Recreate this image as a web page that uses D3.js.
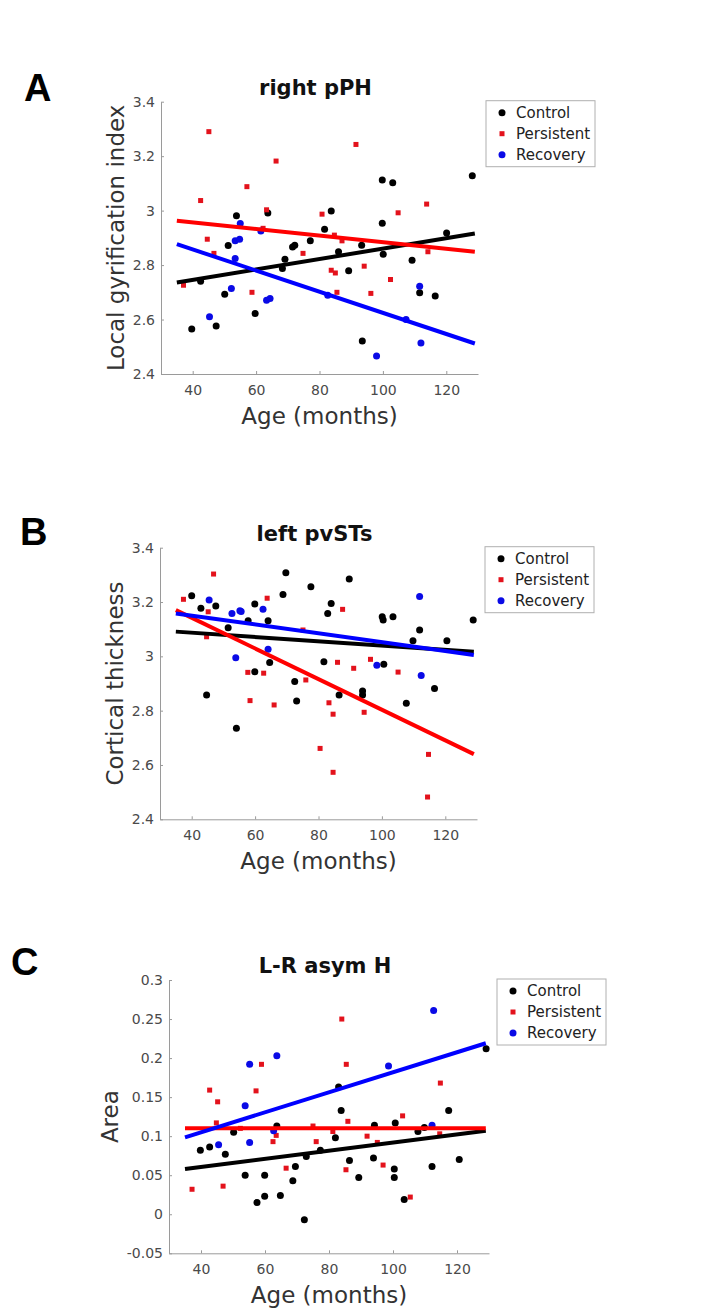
<!DOCTYPE html>
<html>
<head>
<meta charset="utf-8">
<script src="https://cdn.jsdelivr.net/npm/d3@7"></script>
<style>
  body { margin: 0; background: #fff; }
  svg { display: block; }
  .axis path, .axis line { stroke: #9a9a9a; }
  .axis text { font-family: 'DejaVu Sans', sans-serif; font-size: 14px; fill: #4a4a4a; }
  .axis-label { font-family: 'DejaVu Sans', sans-serif; font-size: 23px; fill: #333; }
  .title { font-family: 'DejaVu Sans', sans-serif; font-size: 21px; font-weight: bold; fill: #111; }
  .panel-letter { font-family: 'Liberation Sans', Arial, sans-serif; font-size: 38px; font-weight: bold; fill: #000; }
  .legend text { font-family: 'DejaVu Sans', sans-serif; font-size: 15px; fill: #222; }
</style>
</head>
<body>
<svg id="fig" width="725" height="1309"></svg>
<script>
// ---- data: [age in months, value] ----
const groups = ['Control', 'Persistent', 'Recovery'];
const ageTicks = [40, 60, 80, 100, 120];
const lgiTicks = [2.4, 2.6, 2.8, 3, 3.2, 3.4];
const thickTicks = [2.4, 2.6, 2.8, 3, 3.2, 3.4];
const areaTicks = [-0.05, 0, 0.05, 0.1, 0.15, 0.2, 0.25, 0.3];

// A: right pPH, local gyrification index
const ppH_control = [
  [39.7, 2.565], [42.5, 2.741], [47.4, 2.576], [50.1, 2.693], [51.2, 2.872], [53.8, 2.981],
  [59.7, 2.622], [63.7, 2.991], [68.3, 2.787], [69.1, 2.821], [71.5, 2.866], [72.2, 2.873],
  [77.1, 2.889], [81.6, 2.932], [83.7, 2.999], [86.0, 2.849], [89.2, 2.779], [93.3, 2.873],
  [93.5, 2.521], [99.8, 2.954], [100.1, 2.84], [99.8, 3.112], [103.1, 3.102], [109.2, 2.818],
  [111.6, 2.698], [116.5, 2.686], [120.1, 2.918], [128.2, 3.128]
];
const ppH_persistent = [
  [37.1, 2.726], [42.5, 3.037], [44.6, 2.895], [45.1, 3.29], [46.7, 2.843], [57.1, 3.088],
  [58.7, 2.70], [62.2, 2.935], [63.3, 3.003], [66.3, 3.182], [74.8, 2.843], [80.8, 2.987],
  [83.7, 2.781], [85.0, 2.771], [84.7, 2.91], [85.5, 2.70], [87.1, 2.889], [91.5, 3.243],
  [94.1, 2.796], [96.2, 2.696], [102.4, 2.747], [104.8, 2.992], [113.8, 3.024], [114.2, 2.849]
];
const ppH_recovery = [
  [45.3, 2.61], [52.2, 2.714], [53.4, 2.824], [53.4, 2.889], [54.8, 2.895], [55.0, 2.953],
  [61.5, 2.925], [63.3, 2.671], [64.4, 2.677], [82.6, 2.689], [98.0, 2.466], [107.3, 2.60],
  [111.6, 2.722], [112.0, 2.514]
];
const ppH_fits = [
  [[35, 2.736], [129, 2.916]],
  [[35, 2.963], [129, 2.849]],
  [[35, 2.877], [129, 2.512]]
];

// B: left pvSTs, cortical thickness
const pvSTs_control = [
  [40.0, 3.223], [42.9, 3.177], [44.7, 2.858], [47.6, 3.185], [51.5, 3.105], [54.1, 2.735],
  [57.8, 3.131], [59.9, 3.193], [59.9, 2.943], [64.1, 3.131], [64.6, 2.977], [68.8, 3.228],
  [69.7, 3.308], [72.5, 2.907], [73.1, 2.836], [77.6, 3.256], [81.7, 2.98], [82.9, 3.158],
  [84.0, 3.195], [86.5, 2.858], [89.7, 3.285], [93.9, 2.872], [93.9, 2.858], [100.1, 3.146],
  [100.4, 3.134], [100.6, 2.971], [103.5, 3.146], [107.7, 2.827], [109.8, 3.057], [111.9, 3.097],
  [116.6, 2.882], [120.5, 3.057], [128.8, 3.134]
];
const pvSTs_persistent = [
  [37.4, 3.21], [44.7, 3.072], [45.2, 3.164], [46.9, 3.303], [57.7, 2.941], [58.4, 2.837],
  [62.7, 2.938], [63.8, 3.214], [66.0, 2.821], [75.1, 3.097], [76.0, 2.913], [80.5, 2.661],
  [83.3, 2.829], [84.6, 2.787], [84.6, 2.573], [86.0, 2.978], [87.6, 3.173], [91.1, 2.956],
  [94.4, 2.794], [96.4, 2.989], [105.1, 2.942], [114.4, 2.482], [114.7, 2.639]
];
const pvSTs_recovery = [
  [45.5, 3.207], [52.7, 3.158], [53.9, 2.995], [55.2, 3.168], [55.6, 3.165], [62.5, 3.173],
  [64.1, 3.026], [98.4, 2.967], [111.9, 3.22], [112.4, 2.929]
];
const pvSTs_fits = [
  [[35, 3.091], [129, 3.017]],
  [[35, 3.170], [129, 2.640]],
  [[35, 3.158], [129, 3.005]]
];

// C: L-R asym H, area
const asymH_control = [
  [39.8, 0.082], [42.7, 0.086], [47.6, 0.077], [50.2, 0.105], [53.8, 0.050], [57.5, 0.015],
  [59.9, 0.023], [59.9, 0.050], [63.7, 0.113], [64.8, 0.024], [68.7, 0.043], [69.5, 0.061],
  [72.3, -0.007], [72.9, 0.074], [77.3, 0.082], [82.0, 0.098], [83.0, 0.163], [83.8, 0.133],
  [86.4, 0.069], [89.3, 0.047], [93.9, 0.072], [94.2, 0.114], [100.4, 0.058], [100.4, 0.047],
  [100.7, 0.117], [103.5, 0.019], [107.8, 0.106], [109.8, 0.111], [112.2, 0.061], [117.4, 0.133],
  [120.7, 0.070], [129.1, 0.212]
];
const asymH_persistent = [
  [37.2, 0.032], [42.7, 0.159], [44.8, 0.117], [45.2, 0.144], [46.9, 0.036], [52.3, 0.110],
  [57.2, 0.158], [58.9, 0.192], [62.5, 0.093], [63.5, 0.101], [66.6, 0.059], [75.0, 0.113],
  [76.0, 0.093], [81.2, 0.106], [84.0, 0.250], [85.3, 0.057], [85.4, 0.192], [85.9, 0.119],
  [91.9, 0.100], [95.1, 0.092], [96.9, 0.063], [103.0, 0.126], [105.4, 0.022], [114.6, 0.103],
  [114.8, 0.168]
];
const asymH_recovery = [
  [45.5, 0.089], [53.8, 0.139], [55.2, 0.192], [55.2, 0.092], [62.7, 0.107], [63.7, 0.203],
  [98.6, 0.190], [112.2, 0.114], [112.7, 0.261]
];
const asymH_fits = [
  [[35, 0.058], [129, 0.107]],
  [[35, 0.110], [129, 0.110]],
  [[35, 0.0985], [129, 0.219]]
];

// ---- styles ----
const markerColor = { Control: '#000', Persistent: '#e3121c', Recovery: '#0a0ae6' };
const lineColor = { Control: '#000', Persistent: '#ff0000', Recovery: '#0000ff' };

const svg = d3.select('#fig');

function drawPanel(p) {
  const x = d3.scaleLinear().domain([30, 130]).range([p.left, p.right]);
  const y = d3.scaleLinear().domain(p.yDomain).range([p.bottom, p.top]);

  // panel letter + title
  svg.append('text').attr('class', 'panel-letter')
    .attr('x', p.letterX).attr('y', p.letterY).text(p.letter);
  svg.append('text').attr('class', 'title')
    .attr('x', (p.left + p.right) / 2 - 4).attr('y', p.top - 7)
    .attr('text-anchor', 'middle').text(p.title);

  // axes (MATLAB style: inward ticks, no box)
  svg.append('g').attr('class', 'axis')
    .attr('transform', `translate(0,${p.bottom})`)
    .call(d3.axisBottom(x).tickValues(ageTicks).tickSizeInner(-3).tickSizeOuter(0).tickPadding(11));
  svg.append('g').attr('class', 'axis')
    .attr('transform', `translate(${p.left},0)`)
    .call(d3.axisLeft(y).tickValues(p.yTicks).tickSizeInner(-3).tickSizeOuter(0).tickPadding(6)
      .tickFormat(d => String(d)));

  // axis labels
  svg.append('text').attr('class', 'axis-label')
    .attr('x', (p.left + p.right) / 2).attr('y', p.bottom + 50)
    .attr('text-anchor', 'middle').text('Age (months)');
  svg.append('text').attr('class', 'axis-label')
    .attr('transform', `translate(${p.yLabelX},${(p.top + p.bottom) / 2}) rotate(-90)`)
    .attr('text-anchor', 'middle').text(p.yLabel);

  // scatter points
  const plot = svg.append('g');
  groups.forEach((g, i) => {
    const pts = p.series[i];
    if (g === 'Persistent') {
      plot.selectAll(null).data(pts).enter().append('rect')
        .attr('x', d => x(d[0]) - 2.5).attr('y', d => y(d[1]) - 2.5)
        .attr('width', 5).attr('height', 5)
        .attr('fill', markerColor[g]);
    } else {
      plot.selectAll(null).data(pts).enter().append('circle')
        .attr('cx', d => x(d[0])).attr('cy', d => y(d[1])).attr('r', 3.5)
        .attr('fill', markerColor[g]);
    }
  });

  // regression lines
  const line = d3.line().x(d => x(d[0])).y(d => y(d[1]));
  groups.forEach((g, i) => {
    plot.append('path').datum(p.fits[i])
      .attr('d', line).attr('fill', 'none')
      .attr('stroke', lineColor[g]).attr('stroke-width', 4);
  });

  // legend
  const lg = svg.append('g').attr('class', 'legend')
    .attr('transform', `translate(${p.right + 8},${p.top - 1})`);
  lg.append('rect').attr('width', 109).attr('height', 66)
    .attr('fill', '#fff').attr('stroke', '#b0b0b0').attr('stroke-width', 1);
  groups.forEach((g, i) => {
    const cy = 12 + i * 21;
    if (g === 'Persistent') {
      lg.append('rect').attr('x', 13.5).attr('y', cy - 2.5).attr('width', 5).attr('height', 5)
        .attr('fill', markerColor[g]);
    } else {
      lg.append('circle').attr('cx', 16).attr('cy', cy).attr('r', 3.5).attr('fill', markerColor[g]);
    }
    lg.append('text').attr('x', 30).attr('y', cy).attr('dy', '0.35em').text(g);
  });
}

drawPanel({
  letter: 'A', letterX: 24, letterY: 101, title: 'right pPH',
  left: 161, right: 478, top: 101.7, bottom: 374,
  yDomain: [2.4, 3.4], yTicks: lgiTicks, yLabel: 'Local gyrification index', yLabelX: 124,
  series: [ppH_control, ppH_persistent, ppH_recovery], fits: ppH_fits
});

drawPanel({
  letter: 'B', letterX: 20, letterY: 545, title: 'left pvSTs',
  left: 160, right: 477, top: 547.7, bottom: 819.3,
  yDomain: [2.4, 3.4], yTicks: thickTicks, yLabel: 'Cortical thickness', yLabelX: 123,
  series: [pvSTs_control, pvSTs_persistent, pvSTs_recovery], fits: pvSTs_fits
});

drawPanel({
  letter: 'C', letterX: 11, letterY: 975, title: 'L-R asym H',
  left: 169, right: 489, top: 980, bottom: 1253.3,
  yDomain: [-0.05, 0.3], yTicks: areaTicks, yLabel: 'Area', yLabelX: 118,
  series: [asymH_control, asymH_persistent, asymH_recovery], fits: asymH_fits
});
</script>
</body>
</html>
